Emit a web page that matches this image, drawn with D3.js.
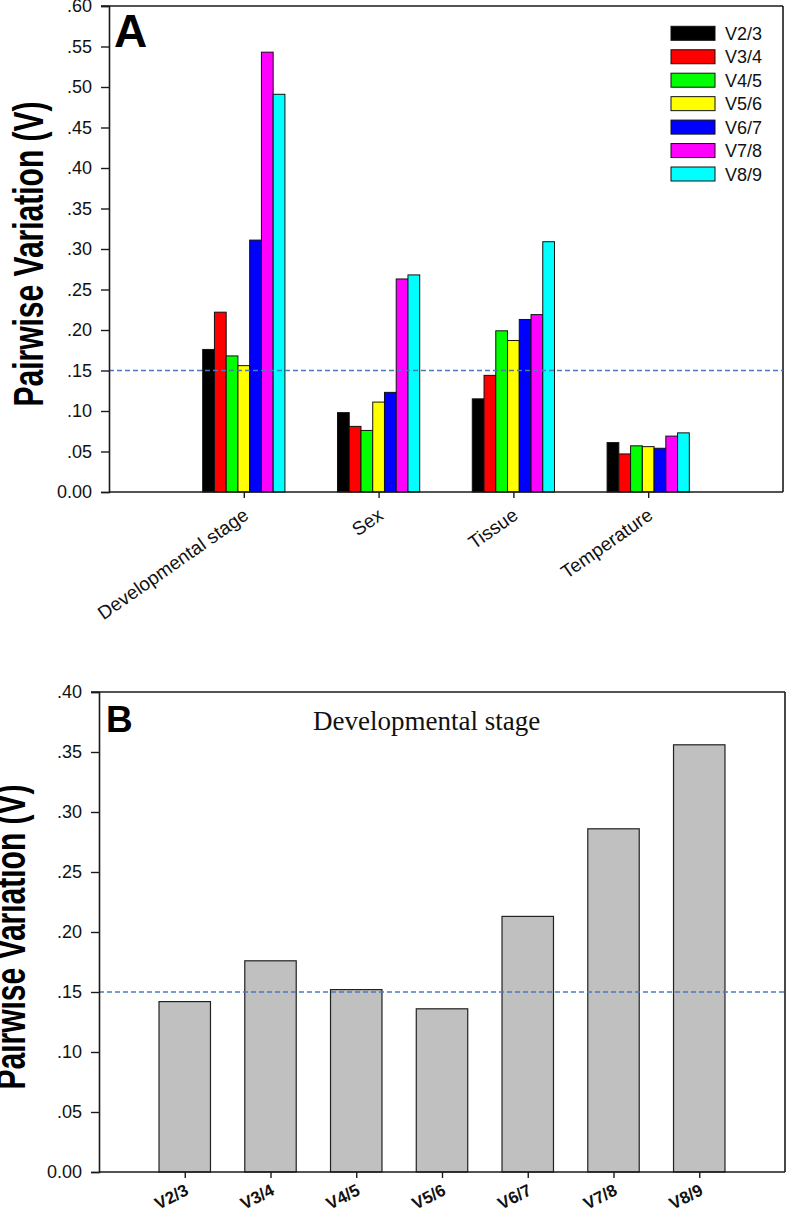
<!DOCTYPE html>
<html>
<head>
<meta charset="utf-8">
<script src="https://cdn.jsdelivr.net/npm/d3@7/dist/d3.min.js"></script>
<style>
  html, body { margin: 0; padding: 0; background: #fff; }
  svg { display: block; }
</style>
</head>
<body>
<svg id="chart" width="787" height="1212" font-family="'Liberation Sans', Arial, sans-serif" fill="#111"></svg>
<script>
// ---------- DATA ----------
const categories = ["Developmental stage", "Sex", "Tissue", "Temperature"];
const seriesNames = ["V2/3", "V3/4", "V4/5", "V5/6", "V6/7", "V7/8", "V8/9"];
const seriesColors = ["#000000", "#ff0000", "#00ff00", "#ffff00", "#0000ff", "#ff00ff", "#00ffff"];
const devStageValues = [0.176, 0.222, 0.168, 0.156, 0.311, 0.543, 0.491];
const sexValues = [0.098, 0.081, 0.076, 0.111, 0.123, 0.263, 0.268];
const tissueValues = [0.115, 0.144, 0.199, 0.187, 0.213, 0.219, 0.309];
const temperatureValues = [0.061, 0.047, 0.057, 0.056, 0.054, 0.069, 0.073];
const panelBCategories = ["V2/3", "V3/4", "V4/5", "V5/6", "V6/7", "V7/8", "V8/9"];
const panelBValues = [0.142, 0.176, 0.152, 0.136, 0.213, 0.286, 0.356];
const yTicksA = [0, 0.05, 0.10, 0.15, 0.20, 0.25, 0.30, 0.35, 0.40, 0.45, 0.50, 0.55, 0.60];
const yTicksB = [0, 0.05, 0.10, 0.15, 0.20, 0.25, 0.30, 0.35, 0.40];
const threshold = 0.15;
const yTitle = "Pairwise Variation (V)";
const panelBTitle = "Developmental stage";

const valuesByCategory = [devStageValues, sexValues, tissueValues, temperatureValues];

// ---------- HELPERS ----------
const svg = d3.select("#chart");
const fmt = v => v === 0 ? "0.00" : d3.format(".2f")(v).replace(/^0/, "");
const axisColor = "#1a1a1a";
const sans = "'Liberation Sans', Arial, sans-serif";

function drawFrame(g, x0, x1, yTop, yBot) {
  g.append("line").attr("x1", x0).attr("x2", x1).attr("y1", yTop).attr("y2", yTop)
    .attr("stroke", axisColor).attr("stroke-width", 1.6);
  g.append("line").attr("x1", x1).attr("x2", x1).attr("y1", yTop).attr("y2", yBot)
    .attr("stroke", axisColor).attr("stroke-width", 1.6);
}

function styleYAxis(sel) {
  sel.select(".domain").attr("stroke", axisColor).attr("stroke-width", 1.6);
  sel.selectAll(".tick line").attr("stroke", axisColor).attr("stroke-width", 1.4);
  sel.selectAll(".tick text").attr("font-size", 18).attr("font-family", sans).attr("fill", "#111");
}

// ---------- PANEL A ----------
const A = { left: 109, right: 783, top: 6, bottom: 492 };
const xA = d3.scalePoint().domain(categories).range([A.left, A.right]).padding(1);
const yA = d3.scaleLinear().domain([0, 0.6]).range([A.bottom, A.top]);
const inner = d3.scaleBand().domain(seriesNames)
  .range([-xA.step() * 0.305, xA.step() * 0.305]).padding(0);

const gA = svg.append("g");
drawFrame(gA, A.left - 8, A.right, A.top, A.bottom);

categories.forEach((cat, ci) => {
  gA.append("g").selectAll("rect")
    .data(valuesByCategory[ci].map((v, i) => ({ v, i })))
    .join("rect")
    .attr("x", d => xA(cat) + inner(seriesNames[d.i]))
    .attr("y", d => yA(d.v))
    .attr("width", inner.bandwidth())
    .attr("height", d => yA(0) - yA(d.v))
    .attr("fill", d => seriesColors[d.i])
    .attr("stroke", "#111")
    .attr("stroke-width", 1);
});

gA.append("line")
  .attr("x1", A.left).attr("x2", A.right)
  .attr("y1", yA(threshold)).attr("y2", yA(threshold))
  .attr("stroke", "#4a7ab8").attr("stroke-width", 1.6)
  .attr("stroke-dasharray", "5,3");

const yAxisA = gA.append("g").attr("transform", `translate(${A.left},0)`)
  .call(d3.axisLeft(yA).tickValues(yTicksA).tickFormat(fmt).tickSize(8).tickPadding(9));
styleYAxis(yAxisA);

const xAxisA = gA.append("g").attr("transform", `translate(0,${A.bottom})`)
  .call(d3.axisBottom(xA).tickSize(6).tickFormat(""));
xAxisA.select(".domain").attr("d", `M${A.left},0H${A.right}`).attr("stroke", axisColor).attr("stroke-width", 1.6);
xAxisA.selectAll(".tick line").attr("stroke", axisColor).attr("stroke-width", 1.4);
gA.append("g").selectAll("text")
  .data(categories).join("text")
  .attr("transform", d => `translate(${xA(d) + 6},${A.bottom + 26}) rotate(-35)`)
  .attr("text-anchor", "end")
  .attr("font-size", 19)
  .text(d => d);

gA.append("text")
  .attr("transform", `translate(43,${(98 + 410) / 2}) rotate(-90) scale(1,1.4)`)
  .attr("text-anchor", "middle")
  .attr("font-size", 30).attr("font-weight", "bold").attr("fill", "#000")
  .text(yTitle);

gA.append("text").attr("x", 114).attr("y", 47)
  .attr("font-size", 46).attr("font-weight", "bold").attr("fill", "#000").text("A");

const legend = gA.append("g");
const legendRow = d3.scalePoint().domain(seriesNames).range([33.3, 174]);
seriesNames.forEach((name, i) => {
  const cy = legendRow(name);
  legend.append("rect").attr("x", 671).attr("y", cy - 7).attr("width", 44).attr("height", 14)
    .attr("fill", seriesColors[i]).attr("stroke", "#111").attr("stroke-width", 1);
  legend.append("text").attr("x", 725).attr("y", cy + 6.5)
    .attr("font-size", 18).text(name);
});

// ---------- PANEL B ----------
const B = { left: 99, right: 785, top: 692, bottom: 1172 };
const xB = d3.scalePoint().domain(panelBCategories).range([B.left, B.right]).padding(1);
const yB = d3.scaleLinear().domain([0, 0.4]).range([B.bottom, B.top]);
const bw = xB.step() * 0.6;

const gB = svg.append("g");
drawFrame(gB, B.left - 8, B.right, B.top, B.bottom);

gB.append("g").selectAll("rect")
  .data(panelBValues.map((v, i) => ({ v, c: panelBCategories[i] })))
  .join("rect")
  .attr("x", d => xB(d.c) - bw / 2)
  .attr("y", d => yB(d.v))
  .attr("width", bw)
  .attr("height", d => yB(0) - yB(d.v))
  .attr("fill", "#c0c0c0")
  .attr("stroke", "#222")
  .attr("stroke-width", 1.2);

gB.append("line")
  .attr("x1", B.left).attr("x2", B.right)
  .attr("y1", yB(threshold)).attr("y2", yB(threshold))
  .attr("stroke", "#4a7ab8").attr("stroke-width", 1.6)
  .attr("stroke-dasharray", "5,3");

const yAxisB = gB.append("g").attr("transform", `translate(${B.left},0)`)
  .call(d3.axisLeft(yB).tickValues(yTicksB).tickFormat(fmt).tickSize(8).tickPadding(9));
styleYAxis(yAxisB);

const xAxisB = gB.append("g").attr("transform", `translate(0,${B.bottom})`)
  .call(d3.axisBottom(xB).tickSize(6).tickFormat(""));
xAxisB.select(".domain").attr("d", `M${B.left},0H${B.right}`).attr("stroke", axisColor).attr("stroke-width", 1.6);
xAxisB.selectAll(".tick line").attr("stroke", axisColor).attr("stroke-width", 1.4);
gB.append("g").selectAll("text")
  .data(panelBCategories).join("text")
  .attr("transform", d => `translate(${xB(d) + 5},${B.bottom + 22}) rotate(-27)`)
  .attr("text-anchor", "end")
  .attr("font-size", 17).attr("font-weight", "bold")
  .attr("font-family", "'Liberation Sans Narrow', 'Arial Narrow', 'Liberation Sans', Arial, sans-serif")
  .text(d => d);

gB.append("text")
  .attr("transform", `translate(25,${(782 + 1092) / 2}) rotate(-90) scale(1,1.4)`)
  .attr("text-anchor", "middle")
  .attr("font-size", 30).attr("font-weight", "bold").attr("fill", "#000")
  .text(yTitle);

gB.append("text").attr("x", 106).attr("y", 732)
  .attr("font-size", 37).attr("font-weight", "bold").attr("fill", "#000").text("B");

gB.append("text").attr("x", 313).attr("y", 730)
  .attr("font-size", 27).attr("font-family", "'Liberation Serif', 'Times New Roman', serif")
  .attr("fill", "#111").text(panelBTitle);
</script>
</body>
</html>
